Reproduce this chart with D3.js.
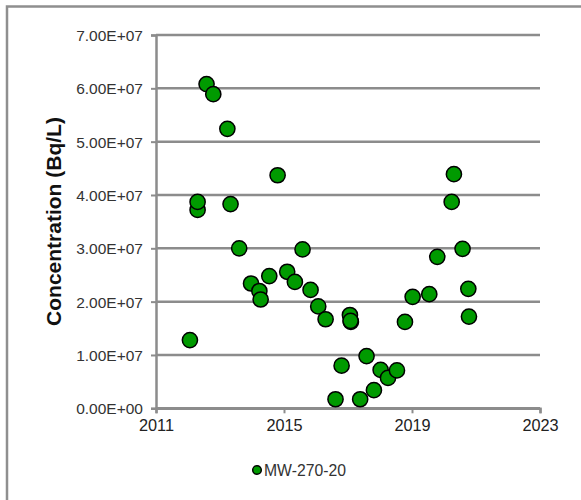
<!DOCTYPE html>
<html>
<head>
<meta charset="utf-8">
<script src="https://cdn.jsdelivr.net/npm/d3@7"></script>
<style>
  html, body { margin: 0; padding: 0; background: #fff; }
  svg { display: block; }
</style>
</head>
<body>
<svg id="chart" width="581" height="500"></svg>
<script>
// Sample dates (decimal years)
const years = [
  2012.06, 2012.30, 2012.30, 2012.58, 2012.79, 2013.23, 2013.33, 2013.60,
  2013.97, 2014.23, 2014.27, 2014.54, 2014.80, 2015.10, 2015.34, 2015.58,
  2015.83, 2016.07, 2016.30, 2016.61, 2016.80, 2017.06, 2017.09, 2017.08,
  2017.38, 2017.58, 2017.81, 2018.02, 2018.25, 2018.53, 2018.78, 2019.02,
  2019.54, 2019.79, 2020.24, 2020.31, 2020.58, 2020.76, 2020.78
];
// Concentration (Bq/L)
const values = [
  1.28e7, 3.72e7, 3.87e7, 6.08e7, 5.89e7, 5.24e7, 3.83e7, 3.00e7,
  2.34e7, 2.20e7, 2.04e7, 2.48e7, 4.37e7, 2.56e7, 2.37e7, 2.98e7,
  2.22e7, 1.91e7, 1.67e7, 0.17e7, 0.80e7, 1.75e7, 1.62e7, 1.64e7,
  0.17e7, 0.98e7, 0.34e7, 0.72e7, 0.57e7, 0.71e7, 1.62e7, 2.09e7,
  2.14e7, 2.84e7, 3.87e7, 4.39e7, 2.99e7, 2.24e7, 1.72e7
];
const seriesName = "MW-270-20";
const xTicks = [2011, 2015, 2019, 2023];
const yTicks = [0, 1e7, 2e7, 3e7, 4e7, 5e7, 6e7, 7e7];
const yTickLabels = ["0.00E+00","1.00E+07","2.00E+07","3.00E+07","4.00E+07","5.00E+07","6.00E+07","7.00E+07"];
const yTitle = "Concentration (Bq/L)";

const svg = d3.select("#chart");
const font = "'Liberation Sans', Arial, sans-serif";
const gridColor = "#8c8c8c";
const green = "#009a00";

// Outer border
svg.append("rect")
  .attr("x", 7).attr("y", 6.5)
  .attr("width", 600).attr("height", 520)
  .attr("fill", "none")
  .attr("stroke", "#8f8f8f")
  .attr("stroke-width", 2.5);

const x = d3.scaleLinear().domain([2011, 2023]).range([156, 540]);
const y = d3.scaleLinear().domain([0, 7e7]).range([408.3, 35]);

// Horizontal gridlines
svg.append("g")
  .selectAll("line")
  .data(yTicks)
  .join("line")
  .attr("x1", x(2011)).attr("x2", x(2023))
  .attr("y1", d => y(d)).attr("y2", d => y(d))
  .attr("stroke", gridColor)
  .attr("stroke-width", 2.5);

// Y axis
const yAxis = svg.append("g")
  .attr("transform", `translate(${x(2011)},0)`)
  .call(d3.axisLeft(y).tickValues(yTicks).tickSize(5).tickPadding(8)
    .tickFormat((d, i) => yTickLabels[i]));
yAxis.select(".domain").attr("stroke", gridColor).attr("stroke-width", 2.5);
yAxis.selectAll(".tick line").attr("stroke", gridColor).attr("stroke-width", 2);
yAxis.selectAll(".tick text")
  .attr("font-family", font).attr("font-size", "15.5px").attr("fill", "#333")
  .attr("dy", "0.36em");

// X axis
const xAxis = svg.append("g")
  .attr("transform", `translate(0,${y(0)})`)
  .call(d3.axisBottom(x).tickValues(xTicks).tickSize(5).tickPadding(6)
    .tickFormat(d3.format("d")));
xAxis.select(".domain").attr("stroke", gridColor).attr("stroke-width", 2.5);
xAxis.selectAll(".tick line").attr("stroke", gridColor).attr("stroke-width", 2);
xAxis.selectAll(".tick text")
  .attr("font-family", font).attr("font-size", "16.3px").attr("fill", "#222");

// Y title
svg.append("text")
  .attr("transform", `translate(60.5,221.5) rotate(-90)`)
  .attr("text-anchor", "middle")
  .attr("font-family", font)
  .attr("font-size", "21px")
  .attr("font-weight", "bold")
  .attr("fill", "#111")
  .text(yTitle);

// Points
svg.append("g")
  .selectAll("circle")
  .data(years.map((t, i) => ({ t, v: values[i] })))
  .join("circle")
  .attr("cx", d => x(d.t))
  .attr("cy", d => y(d.v))
  .attr("r", 7.6)
  .attr("fill", green)
  .attr("stroke", "#000")
  .attr("stroke-width", 1.5);

// Legend
const lg = svg.append("g");
lg.append("circle")
  .attr("cx", 257).attr("cy", 470).attr("r", 4.3)
  .attr("fill", green).attr("stroke", "#000").attr("stroke-width", 1.5);
lg.append("text")
  .attr("x", 264).attr("y", 475.5)
  .attr("font-family", font).attr("font-size", "15.75px").attr("fill", "#333")
  .text(seriesName);
</script>
</body>
</html>
